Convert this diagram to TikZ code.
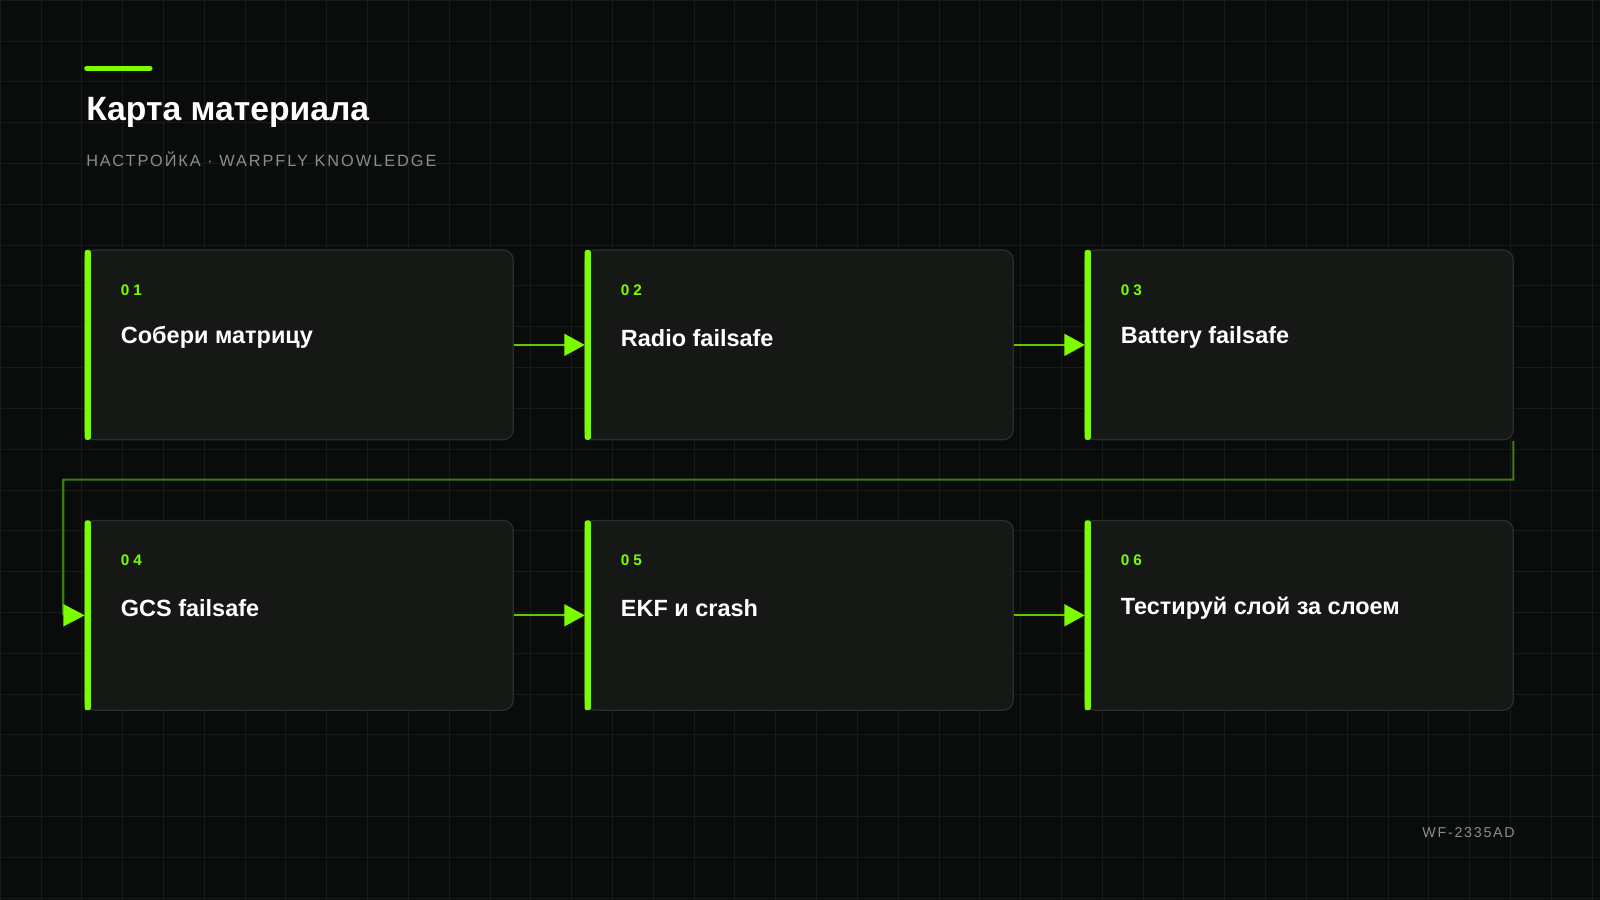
\documentclass[tikz,border=0pt]{standalone}
\usepackage{fontspec}
\setmainfont{Liberation Sans}
\begin{document}
\definecolor{bg}{HTML}{0A0C0B}
\definecolor{card}{HTML}{161816}
\definecolor{cardline}{HTML}{2C2F2C}
\definecolor{lime}{HTML}{7CFC00}
\definecolor{dlime}{HTML}{3F7A0C}
\definecolor{sub}{HTML}{8A8D8A}
\begin{tikzpicture}[x=1pt,y=-1pt,
 card/.style={draw=cardline,line width=1.2pt,fill=card,rounded corners=10pt},
 num/.style={anchor=west,text=lime,font=\bfseries\fontsize{15}{15}\selectfont\addfontfeature{LetterSpace=25}},
 ttl/.style={anchor=west,text=white,font=\bfseries\fontsize{23}{23}\selectfont},
 flow/.style={draw=lime!80!black,line width=2pt},
 tip/.style={fill=lime}]
\fill[bg] (0,0) rectangle (1568,882);
\useasboundingbox (0,0) rectangle (1568,882);
\foreach \x in {0,40,...,1560} \draw[white!6!bg,line width=0.5pt] (\x,0)--(\x,882);
\foreach \y in {0,40,...,880} \draw[white!6!bg,line width=0.5pt] (0,\y)--(1568,\y);
\draw[lime,line width=5pt,line cap=round] (85,67)--(147,67);
\node[anchor=west,text=white,font=\bfseries\fontsize{33}{33}\selectfont] (title) at (81,110) {Карта материала};
\node[anchor=west,text=sub,font=\fontsize{16}{16}\selectfont\addfontfeature{LetterSpace=12}] (subt) at (81,156) {НАСТРОЙКА · WARPFLY KNOWLEDGE};
\node[anchor=east,text=sub,font=\fontsize{14}{14}\selectfont\addfontfeature{LetterSpace=12}] (code) at (1488,816) {WF-2335AD};
\foreach \i/\x/\y/\n/\t in {1/83/245/01/Собери матрицу,2/573/245/02/Radio failsafe,3/1063/245/03/Battery failsafe,4/83/510/04/GCS failsafe,5/573/510/05/EKF и crash,6/1063/510/06/Тестируй слой за слоем}{
 \draw[card] (\x,\y) rectangle ++(420,186);
 \coordinate (b\i) at (\x,\y+93);
 \coordinate (r\i) at (\x+421,\y+93);
 \coordinate (bot\i) at (\x+420,\y+187);
 \fill[lime,rounded corners=2pt] (\x,\y) rectangle ++(6,186);
 \node[num] (n\i) at (\x+32,\y+39) {\n};
 \node[ttl] (t\i) at (\x+32,\y+86) {\t};
}
\foreach \a/\b in {1/2,2/3,4/5,5/6}{
 \draw[flow] (r\a) -- ([xshift=-18pt]b\b);
 \fill[tip] (b\b) -- ++(-20,-11) -- ++(0,22) -- cycle;
}
\draw[dlime,line width=2pt] (bot3) -- ++(0,38) -| (62,602) -- ([xshift=-20pt]b4);
\fill[tip] (b4) -- ++(-21,-11) -- ++(0,22) -- cycle;
\end{tikzpicture}
\end{document}
